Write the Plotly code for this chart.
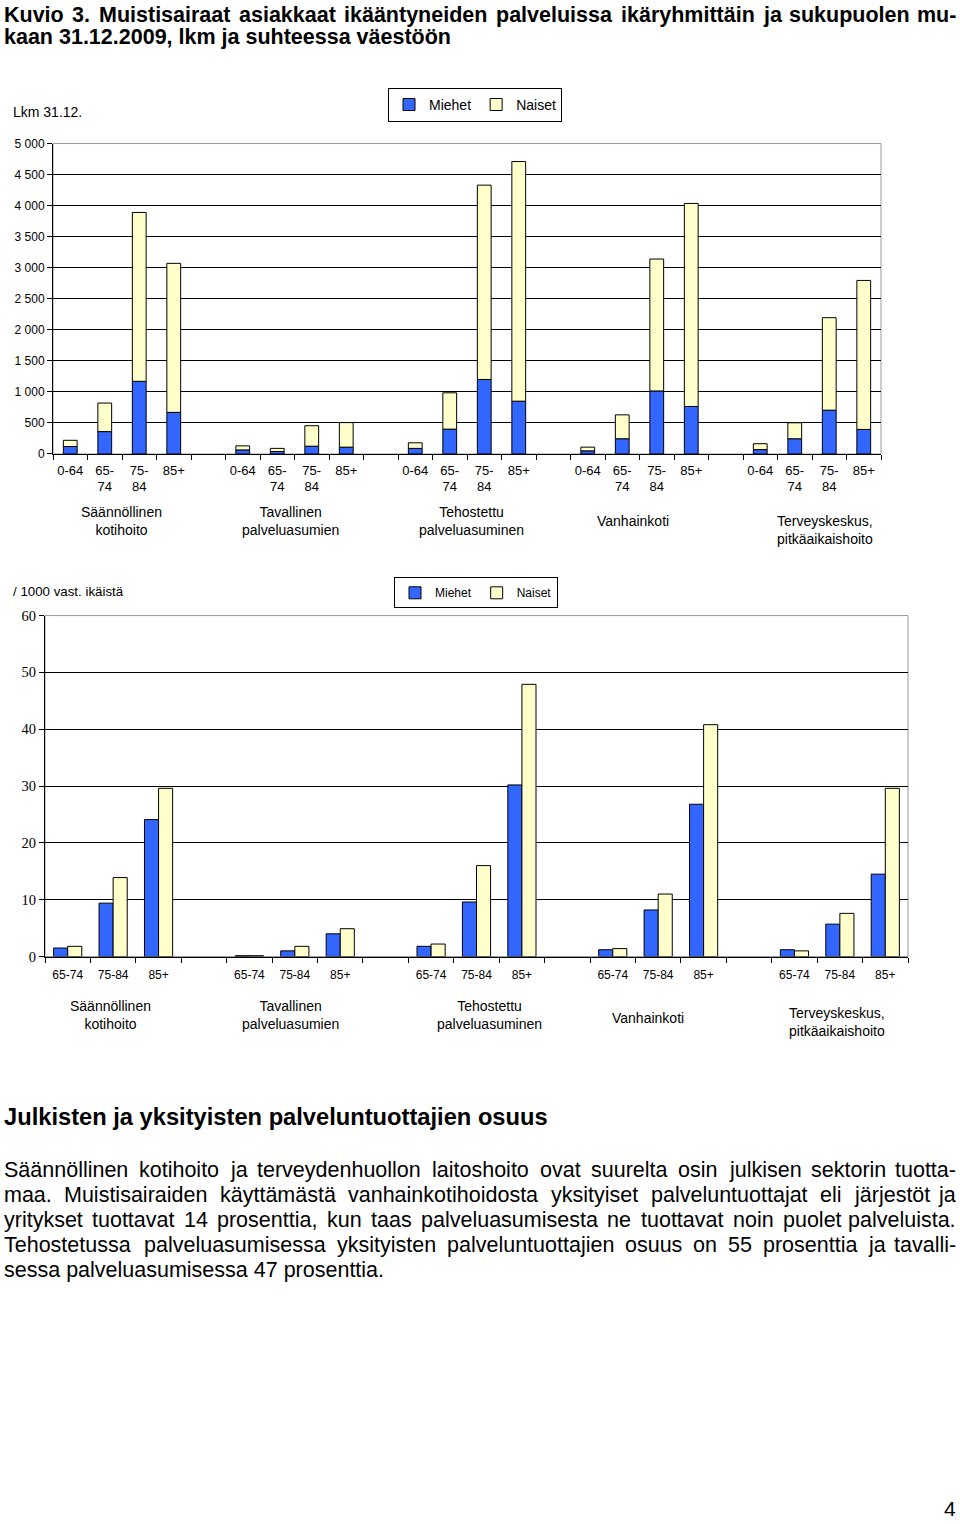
import plotly.graph_objects as go

W, H = 960, 1524
# the photographed page shows the figure slightly inset vertically; this maps
# reference pixel rows to figure rows
Y_OFF, Y_SCALE = 7.0, 0.9907

# ---------------- data ----------------
categories = ["Säännöllinen<br>kotihoito", "Tavallinen<br>palveluasumien",
              "Tehostettu<br>palveluasuminen", "Vanhainkoti",
              "Terveyskeskus,<br>pitkäaikaishoito"]
age_top = ["0-64", "65-<br>74", "75-<br>84", "85+"]
age_bottom = ["65-74", "75-84", "85+"]

# Lkm 31.12. (stacked)
miehet_lkm = [[120, 360, 1170, 670],
              [65, 40, 125, 110],
              [90, 400, 1200, 850],
              [50, 245, 1015, 765],
              [70, 245, 705, 395]]
naiset_lkm = [[100, 460, 2720, 2400],
              [65, 50, 330, 395],
              [90, 585, 3130, 3860],
              [60, 385, 2125, 3270],
              [95, 257, 1490, 2400]]

# / 1000 vast. ikäistä
miehet_rate = [[1.5, 9.4, 24.1],
               [0.15, 1.0, 4.0],
               [1.8, 9.6, 30.2],
               [1.2, 8.2, 26.8],
               [1.2, 5.7, 14.5]]
naiset_rate = [[1.8, 13.9, 29.6],
               [0.15, 1.8, 4.9],
               [2.2, 16.0, 47.9],
               [1.4, 11.0, 40.8],
               [1.0, 7.6, 29.6]]

title_lines = ["Kuvio 3. Muistisairaat asiakkaat ikääntyneiden palveluissa ikäryhmittäin ja sukupuolen mu-",
               "kaan 31.12.2009, lkm ja suhteessa väestöön"]
heading = "Julkisten ja yksityisten palveluntuottajien osuus"
para_lines = ["Säännöllinen kotihoito ja terveydenhuollon laitoshoito ovat suurelta osin julkisen sektorin tuotta-",
              "maa. Muistisairaiden käyttämästä vanhainkotihoidosta yksityiset palveluntuottajat eli järjestöt ja",
              "yritykset tuottavat 14 prosenttia, kun taas palveluasumisesta ne tuottavat noin puolet palveluista.",
              "Tehostetussa palveluasumisessa yksityisten palveluntuottajien osuus on 55 prosenttia ja tavalli-",
              "sessa palveluasumisessa 47 prosenttia."]

BLUE = "#3366FF"
CREAM = "#FFFFCC"
SANS = "Liberation Sans, Arial, sans-serif"
NARROW = "Liberation Sans Narrow, Arial Narrow, Liberation Sans, sans-serif"
SERIF = "Liberation Serif, Times New Roman, serif"

def px(x):
    return x / W

def py(y):
    yf = (y - Y_OFF) / Y_SCALE
    return 1 - yf / H

top_x = [g * 5 + i for g in range(len(categories)) for i in range(len(age_top))]
top_lbl = [age_top[i] for g in range(len(categories)) for i in range(len(age_top))]
bot_x = [g * 4 + i for g in range(len(categories)) for i in range(len(age_bottom))]
bot_lbl = [age_bottom[i] for g in range(len(categories)) for i in range(len(age_bottom))]

flat = lambda a: [v for row in a for v in row]

fig = go.Figure()
line = dict(color="black", width=1)
fig.add_trace(go.Bar(x=top_x, y=flat(miehet_lkm), name="Miehet", marker=dict(color=BLUE, line=line),
                     width=0.4, offsetgroup="t", xaxis="x", yaxis="y", legend="legend"))
fig.add_trace(go.Bar(x=top_x, y=flat(naiset_lkm), base=flat(miehet_lkm), name="Naiset",
                     marker=dict(color=CREAM, line=line),
                     width=0.4, offsetgroup="t", xaxis="x", yaxis="y", legend="legend"))
fig.add_trace(go.Bar(x=bot_x, y=flat(miehet_rate), name="Miehet", marker=dict(color=BLUE, line=line),
                     offsetgroup="m", xaxis="x2", yaxis="y2", legend="legend2"))
fig.add_trace(go.Bar(x=bot_x, y=flat(naiset_rate), name="Naiset", marker=dict(color=CREAM, line=line),
                     offsetgroup="n", xaxis="x2", yaxis="y2", legend="legend2"))

# plot areas (reference pixels)
T = dict(x0=53, x1=881, y0=142.7, y1=453.5)
B = dict(x0=45, x1=908, y0=615.3, y1=956.7)

common_x = dict(showline=True, linecolor="black", linewidth=1, showgrid=False, zeroline=False,
                ticks="", tickmode="array",
                minor=dict(ticks="outside", tickmode="linear", tick0=0.5, dtick=1, ticklen=5,
                           tickcolor="black", showgrid=False))
common_y = dict(showline=True, linecolor="black", linewidth=1, showgrid=True, gridcolor="black",
                gridwidth=1, zeroline=False, ticks="outside", ticklen=5, tickcolor="black")

fig.update_layout(
    width=W, height=H, margin=dict(l=0, r=0, t=0, b=0),
    paper_bgcolor="white", plot_bgcolor="white",
    barmode="group", bargap=0.38, bargroupgap=0,
    separators=", ",
    showlegend=True,
    xaxis=dict(domain=[px(T["x0"]), px(T["x1"])], anchor="y", range=[-0.5, 23.5],
               tickvals=top_x, ticktext=top_lbl, ticklabelstandoff=4,
               tickfont=dict(family=SANS, size=13, color="black"), **common_x),
    yaxis=dict(domain=[py(T["y1"]), py(T["y0"])], anchor="x", range=[0, 5000],
               tickvals=list(range(0, 5001, 500)), separatethousands=True,
               tickfont=dict(family=SANS, size=12, color="black"), **common_y),
    xaxis2=dict(domain=[px(B["x0"]), px(B["x1"])], anchor="y2", range=[-0.5, 18.5],
                tickvals=bot_x, ticktext=bot_lbl, ticklabelstandoff=7,
                tickfont=dict(family=NARROW, size=12, color="black"), **common_x),
    yaxis2=dict(domain=[py(B["y1"]), py(B["y0"])], anchor="x2", range=[0, 60],
                tickvals=list(range(0, 61, 10)),
                tickfont=dict(family=SERIF, size=14.5, color="black"), **common_y),
    legend=dict(x=px(388), y=py(87), xanchor="left", yanchor="top", orientation="h",
                bordercolor="black", borderwidth=1, bgcolor="white",
                font=dict(family=SANS, size=14, color="black"), itemwidth=30,
                tracegroupgap=0),
    legend2=dict(x=px(394), y=py(577), xanchor="left", yanchor="top", orientation="h",
                 bordercolor="black", borderwidth=1, bgcolor="white",
                 font=dict(family=NARROW, size=12, color="black"), itemwidth=30,
                 tracegroupgap=0),
)

shapes = []
for P in (T, B):
    shapes.append(dict(type="rect", xref="paper", yref="paper", x0=px(P["x0"]), x1=px(P["x1"]),
                       y0=py(P["y1"]), y1=py(P["y0"]), line=dict(color="#999999", width=1),
                       layer="below"))
fig.update_layout(shapes=shapes)

ann = []

def text(x, y, s, size, family=SANS, xanchor="left", bold=False, align="left"):
    if bold:
        s = "<b>" + s + "</b>"
    ann.append(dict(x=px(x), y=py(y), xref="paper", yref="paper", text=s, showarrow=False,
                    xanchor=xanchor, yanchor="middle", align=align,
                    font=dict(family=family, size=size, color="black"), borderpad=0))

# Arial metrics (per 1000 em) used to spread justified lines
REG = dict(zip("abcdefghijklmnopqrstuvwxyzäö", [556,556,500,556,556,278,556,556,222,222,500,222,833,556,556,556,556,333,500,278,556,500,722,500,500,500,556,556]))
REG.update(dict(zip("ABCDEFGHIJKLMNOPQRSTUVWXYZ", [667,667,722,722,667,611,778,722,278,500,667,556,833,722,778,667,778,722,667,611,722,667,944,667,667,611])))
BOLD = dict(zip("abcdefghijklmnopqrstuvwxyzäö", [556,611,556,611,556,333,611,611,278,278,556,278,889,611,611,611,611,389,556,333,611,556,778,556,556,500,556,611]))
BOLD.update(dict(zip("ABCDEFGHIJKLMNOPQRSTUVWXYZ", [722,722,722,722,667,611,778,722,278,556,722,611,833,722,778,667,778,722,667,611,722,667,944,667,667,611])))
for d in (REG, BOLD):
    d.update({c: 556 for c in "0123456789"})
    d.update({" ": 278, ".": 278, ",": 278, "-": 333})

def width(s, size, bold):
    tab = BOLD if bold else REG
    return sum(tab.get(c, 556) for c in s) * size / 1000.0

def justify(s, y, size, bold, x0=3, x1=957):
    words = s.split(" ")
    ws = [width(w, size, bold) for w in words]
    gap = (x1 - x0 - sum(ws)) / (len(words) - 1)
    x = x0
    for i, w in enumerate(words):
        if i == len(words) - 1:
            text(x1, y, w, size, xanchor="right", bold=bold)
        else:
            text(x, y, w, size, bold=bold)
        x += ws[i] + gap

justify(title_lines[0], 14, 21.5, True)
text(3, 36.5, title_lines[1], 21.5, bold=True)
text(3, 1117, heading, 23.7, bold=True)
for i, l in enumerate(para_lines):
    yy = [1170, 1195, 1220, 1245, 1271][i]
    if i < 4:
        justify(l, yy, 21.5, False)
    else:
        text(3, yy, l, 21.5)
text(957, 1509, "4", 21, xanchor="right")

# axis captions
text(12, 111, "Lkm 31.12.", 14)
text(12, 591, "/ 1000 vast. ikäistä", 13.3)

# group labels
top_grp = [(121, 521), (290, 521), (471, 521), (633, 521), (825, 530)]
for (gx, gy), c in zip(top_grp, categories):
    text(gx, gy, c, 14, xanchor="center", align="center")
bot_grp = [(110, 1015), (290, 1015), (490, 1015), (648, 1018), (837, 1022)]
for (gx, gy), c in zip(bot_grp, categories):
    text(gx, gy, c, 14, family=NARROW, xanchor="center", align="center")

fig.update_layout(annotations=ann)
fig.write_html("out.html", config={"displayModeBar": False},
               post_script="document.documentElement.style.margin='0';document.body.style.margin='0';document.body.style.padding='0';")
